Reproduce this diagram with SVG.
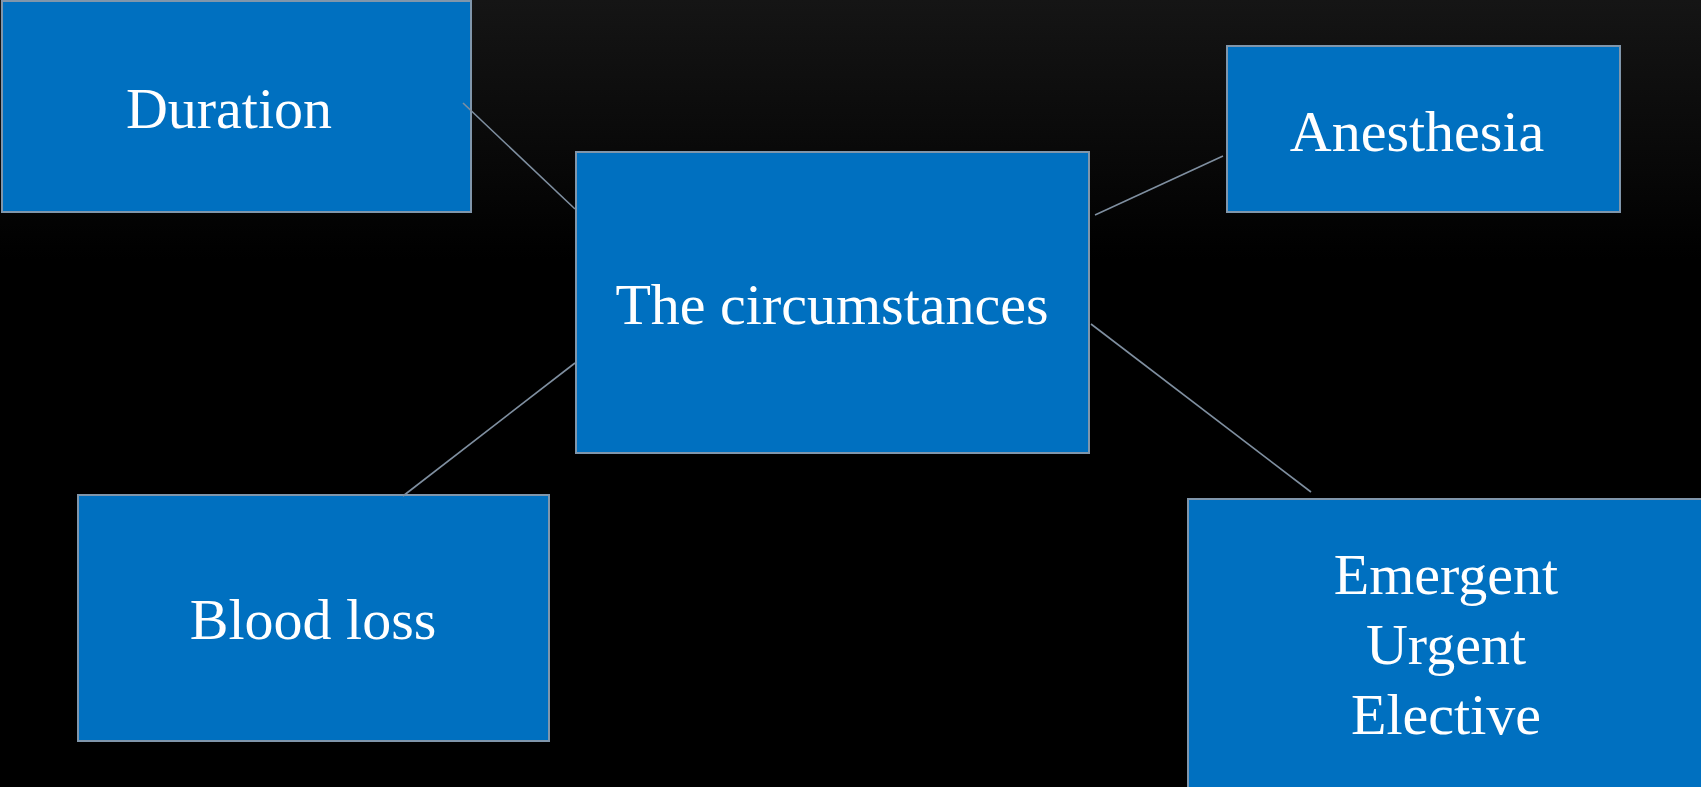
<svg xmlns="http://www.w3.org/2000/svg" width="1701" height="787" viewBox="0 0 1701 787">
  <defs>
    <linearGradient id="bg" x1="0" y1="0" x2="0" y2="1">
      <stop offset="0" stop-color="#151515"/>
      <stop offset="0.33" stop-color="#000000"/>
      <stop offset="1" stop-color="#000000"/>
    </linearGradient>
    <style>
      .box { fill: #0070C0; stroke: #8096ab; stroke-width: 2; }
      .lbl { fill: #ffffff; font-family: "Liberation Serif", "Times New Roman", serif; font-size: 58px; text-anchor: middle; }
      .conn line { stroke: #7f8fa0; stroke-width: 1.6; }
    </style>
  </defs>
  <rect x="0" y="0" width="1701" height="787" fill="url(#bg)"/>

  <g id="node-duration">
    <rect class="box" x="2" y="1" width="469" height="211"/>
    <text class="lbl" x="229" y="128">Duration</text>
  </g>

  <g id="node-circumstances">
    <rect class="box" x="576" y="152" width="513" height="301"/>
    <text class="lbl" x="832" y="324">The circumstances</text>
  </g>

  <g id="node-anesthesia">
    <rect class="box" x="1227" y="46" width="393" height="166"/>
    <text class="lbl" x="1417" y="151">Anesthesia</text>
  </g>

  <g id="node-bloodloss">
    <rect class="box" x="78" y="495" width="471" height="246"/>
    <text class="lbl" x="313" y="639">Blood loss</text>
  </g>

  <g id="node-urgency">
    <rect class="box" x="1188" y="499" width="520" height="295"/>
    <text class="lbl" x="1446" y="594">Emergent</text>
    <text class="lbl" x="1446" y="664">Urgent</text>
    <text class="lbl" x="1446" y="734">Elective</text>
  </g>

  <g id="connectors" class="conn">
    <line x1="463" y1="103" x2="575" y2="209"/>
    <line x1="1095" y1="215" x2="1223" y2="156"/>
    <line x1="403" y1="496" x2="575" y2="363"/>
    <line x1="1091" y1="324" x2="1311" y2="492"/>
  </g>
</svg>
